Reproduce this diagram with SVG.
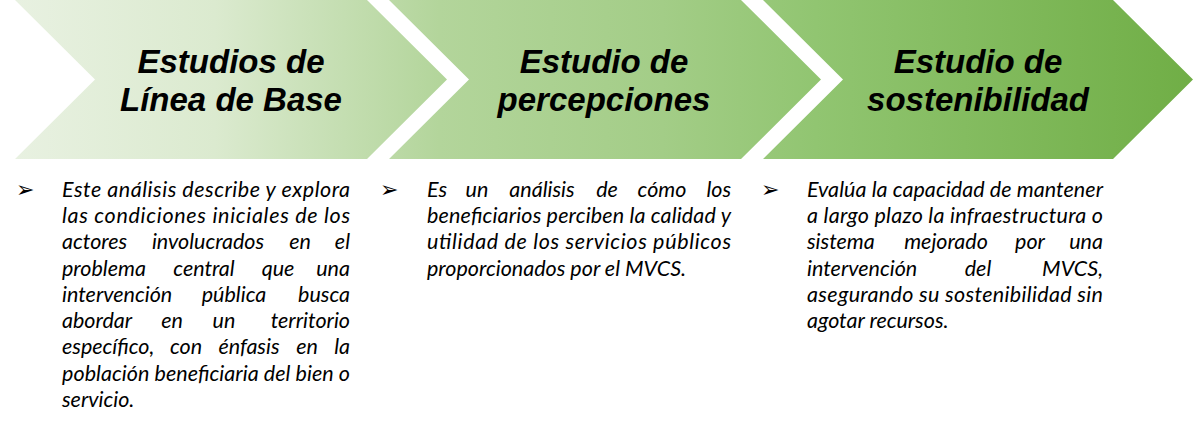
<svg xmlns="http://www.w3.org/2000/svg" width="1194" height="428" viewBox="0 0 1194 428">
<style>
.title{font-family:"Liberation Sans",Arial,sans-serif;font-weight:bold;font-style:italic;font-size:33px;fill:#000;text-anchor:middle}
.body{font-family:Lato,"Liberation Sans",sans-serif;font-style:italic;font-size:21.5px;fill:#000}
.m{text-anchor:middle}
.e{text-anchor:end}
.bul{font-family:"DejaVu Sans",sans-serif;font-size:22px;fill:#000}
</style>
<defs>
<linearGradient id="g" gradientUnits="userSpaceOnUse" x1="15" y1="0" x2="1193" y2="0">
<stop offset="0" stop-color="#e8f1e1"/>
<stop offset="0.17" stop-color="#dbeacf"/>
<stop offset="0.36" stop-color="#b3d59b"/>
<stop offset="0.55" stop-color="#a3cd87"/>
<stop offset="0.68" stop-color="#91c571"/>
<stop offset="1" stop-color="#70ae46"/>
</linearGradient>
</defs>
<g id="chevron1">
<polygon points="15,0 367,0 447,79.5 367,159 15,159 95,79.5" fill="url(#g)"/>
<text class="title" x="231" y="73">Estudios de</text>
<text class="title" x="231" y="111">Línea de Base</text>
</g>
<g id="chevron2">
<polygon points="389,0 741,0 821,79.5 741,159 389,159 469,79.5" fill="url(#g)"/>
<text class="title" x="604" y="73">Estudio de</text>
<text class="title" x="604" y="111">percepciones</text>
</g>
<g id="chevron3">
<polygon points="763,0 1113,0 1193,79.5 1113,159 763,159 843,79.5" fill="url(#g)"/>
<text class="title" x="978" y="73">Estudio de</text>
<text class="title" x="978" y="111">sostenibilidad</text>
</g>
<g id="connectors"></g>
<g id="text1">
<text class="bul" x="16" y="197">➢</text>
<text class="body" x="62" y="197" textLength="288" lengthAdjust="spacing">Este análisis describe y explora</text>
<text class="body" x="62" y="223" textLength="288" lengthAdjust="spacing">las condiciones iniciales de los</text>
<text class="body" y="249"><tspan x="62">actores</tspan><tspan class="m" x="208">involucrados</tspan><tspan class="m" x="300">en</tspan><tspan class="e" x="350">el</tspan></text>
<text class="body" y="276"><tspan x="62">problema</tspan><tspan class="m" x="204">central</tspan><tspan class="m" x="278">que</tspan><tspan class="e" x="350">una</tspan></text>
<text class="body" y="302"><tspan x="62">intervención</tspan><tspan class="m" x="234">pública</tspan><tspan class="e" x="350">busca</tspan></text>
<text class="body" y="328"><tspan x="62">abordar</tspan><tspan class="m" x="172">en</tspan><tspan class="m" x="224">un</tspan><tspan class="e" x="350">territorio</tspan></text>
<text class="body" y="354"><tspan x="62">específico,</tspan><tspan class="m" x="186">con</tspan><tspan class="m" x="249">énfasis</tspan><tspan class="m" x="307">en</tspan><tspan class="e" x="350">la</tspan></text>
<text class="body" x="62" y="381" textLength="288" lengthAdjust="spacing">población beneficiaria del bien o</text>
<text class="body" x="62" y="407">servicio.</text>
</g>
<g id="text2">
<text class="bul" x="380" y="197">➢</text>
<text class="body" y="197"><tspan x="427">Es</tspan><tspan class="m" x="477">un</tspan><tspan class="m" x="542">análisis</tspan><tspan class="m" x="607">de</tspan><tspan class="m" x="662">cómo</tspan><tspan class="e" x="731">los</tspan></text>
<text class="body" x="427" y="223" textLength="304" lengthAdjust="spacing">beneficiarios perciben la calidad y</text>
<text class="body" x="427" y="249" textLength="304" lengthAdjust="spacing">utilidad de los servicios públicos</text>
<text class="body" x="427" y="276">proporcionados por el MVCS.</text>
</g>
<g id="text3">
<text class="bul" x="761" y="197">➢</text>
<text class="body" x="807" y="197" textLength="296" lengthAdjust="spacing">Evalúa la capacidad de mantener</text>
<text class="body" x="807" y="223" textLength="296" lengthAdjust="spacing">a largo plazo la infraestructura o</text>
<text class="body" y="249"><tspan x="807">sistema</tspan><tspan class="m" x="946">mejorado</tspan><tspan class="m" x="1030">por</tspan><tspan class="e" x="1103">una</tspan></text>
<text class="body" y="276"><tspan x="807">intervención</tspan><tspan class="m" x="978">del</tspan><tspan class="e" x="1103">MVCS,</tspan></text>
<text class="body" x="807" y="302" textLength="296" lengthAdjust="spacing">asegurando su sostenibilidad sin</text>
<text class="body" x="807" y="328">agotar recursos.</text>
</g>
</svg>
